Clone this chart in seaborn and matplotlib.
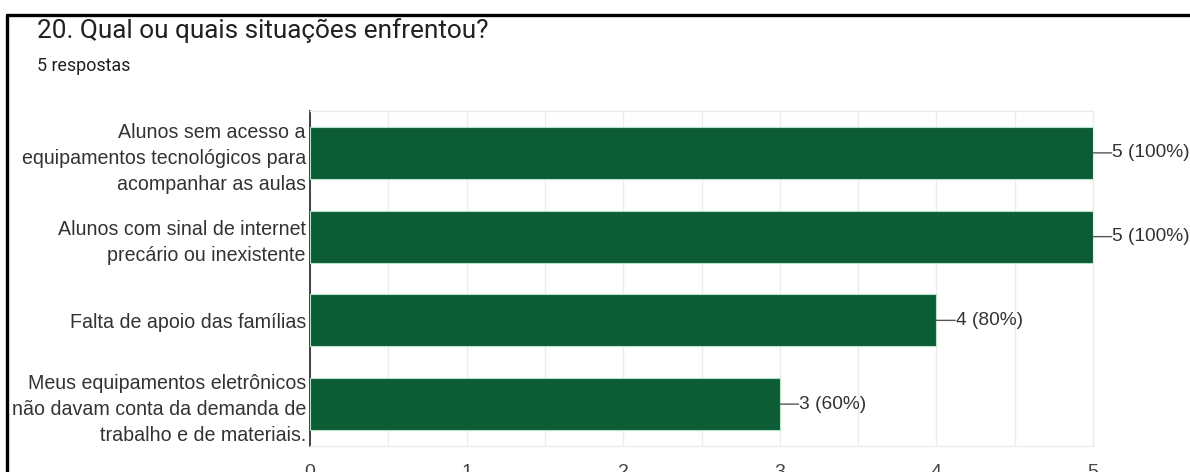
import matplotlib
matplotlib.use("Agg")
import matplotlib.pyplot as plt
from matplotlib.lines import Line2D
from matplotlib.ticker import MultipleLocator
import seaborn as sns
import pandas as pd

# Survey question 20: situations faced (multiple choice, 5 responses)
situations = [
    "Alunos sem acesso a\nequipamentos tecnológicos para\nacompanhar as aulas",
    "Alunos com sinal de internet\nprecário ou inexistente",
    "Falta de apoio das famílias",
    "Meus equipamentos eletrônicos\nnão davam conta da demanda de\ntrabalho e de materiais.",
]
counts = [5, 5, 4, 3]
total_responses = 5
x_ticks = [0, 1, 2, 3, 4, 5]

title = "20. Qual ou quais situações enfrentou?"
subtitle = f"{total_responses} respostas"

bar_color = "#0c5c36"
label_font = ["Liberation Sans", "DejaVu Sans"]
title_font = ["Roboto", "DejaVu Sans"]

sns.set_theme(style="white")
plt.rcParams["font.family"] = label_font

df = pd.DataFrame({"situacao": situations, "respostas": counts})

fig = plt.figure(figsize=(11.9, 4.72), dpi=100)
ax = fig.add_axes([0.2605, 0.0551, 0.658, 0.7097])

sns.barplot(
    data=df, x="respostas", y="situacao", orient="h",
    color=bar_color, saturation=1, width=0.62,
    edgecolor="#b5e3c8", linewidth=0.8, ax=ax, zorder=3,
)

ax.set_xlim(0, 5)
ax.set_ylim(3.5, -0.5)
ax.set_xticks(x_ticks)
ax.xaxis.set_minor_locator(MultipleLocator(0.5))
ax.grid(True, axis="x", which="both", color="#ececec", linewidth=1, zorder=0)
ax.set_xlabel("")
ax.set_ylabel("")

for side in ["top", "right", "bottom"]:
    ax.spines[side].set_visible(True)
    ax.spines[side].set_color("#ececec")
    ax.spines[side].set_linewidth(1)
ax.spines["left"].set_color("#333333")
ax.spines["left"].set_linewidth(1.3)

ax.tick_params(axis="y", length=0, pad=3, labelsize=14.1, labelcolor="#333333")
ax.tick_params(axis="x", length=0, pad=13, labelsize=14, labelcolor="#444444")
for lbl in ax.get_yticklabels():
    lbl.set_linespacing(1.47)
    lbl.set_horizontalalignment("right")

# value labels with short leader lines from the bar end
for i, v in enumerate(counts):
    pct = round(100 * v / total_responses)
    ax.annotate(
        f"{v} ({pct}%)", xy=(v, i), xytext=(14, 0), textcoords="offset points",
        va="center", ha="left", fontsize=13.8, color="#333333",
        annotation_clip=False,
    )
    ax.annotate(
        "", xy=(v, i), xytext=(13.5, 0), textcoords="offset points",
        arrowprops=dict(arrowstyle="-", color="#555555", lw=1,
                        shrinkA=0, shrinkB=0),
        annotation_clip=False,
    )

fig.text(37 / 1190, 1 - 31 / 472, title, fontsize=18.8, color="#202124",
         family=title_font, va="center", ha="left")
fig.text(37 / 1190, 1 - 66 / 472, subtitle, fontsize=12.9, color="#202124",
         family=title_font, va="center", ha="left")

# black frame lines along the top and left edge
fig.add_artist(Line2D([7 / 1190, 1.0], [1 - 15 / 472, 1 - 15 / 472],
                      transform=fig.transFigure, color="black", lw=2.4))
fig.add_artist(Line2D([7 / 1190, 7 / 1190], [0, 1 - 15 / 472],
                      transform=fig.transFigure, color="black", lw=2.4))

fig.savefig("out.png", dpi=100)
